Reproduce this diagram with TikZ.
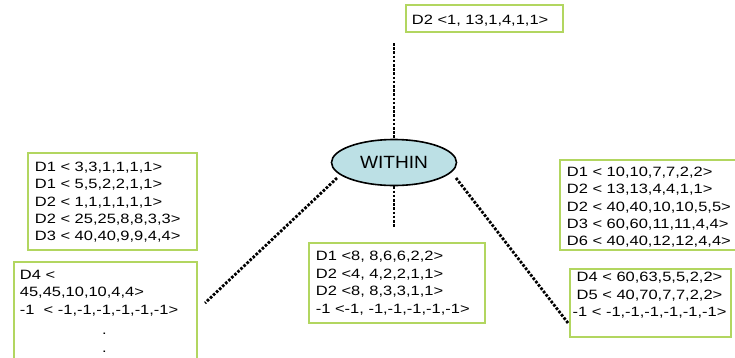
\documentclass[tikz,border=0pt]{standalone}
\usepackage{fontspec}
\usetikzlibrary{shapes.geometric}
\newfontfamily\boxfont{Liberation Sans}[FakeStretch=1.22]
\newfontfamily\ovalfont{Liberation Sans}[FakeStretch=1.08]
\definecolor{framegreen}{RGB}{178,214,96}
\definecolor{ovalblue}{RGB}{188,224,229}

\begin{document}
\begin{tikzpicture}[x=1pt,y=-1pt,
  listbox/.style={draw=framegreen, line width=1.5pt, inner sep=0pt, anchor=north west},
  listing/.style={anchor=north west, inner sep=0pt, align=left,
    font=\boxfont\fontsize{13.5}{17.4}\selectfont},
  link/.style={line width=2.8pt, dash pattern=on 2.6pt off 1.6pt},
  oval/.style={ellipse, draw, line width=1.6pt, fill=ovalblue,
    minimum width=125pt, minimum height=46pt, inner sep=0pt,
    font=\ovalfont\fontsize{17.7}{20}\selectfont}]

\useasboundingbox (0,0) rectangle (735,357);
\clip (0,0) rectangle (735,357);

% central oval
\node[oval] (within) at (394,162.5) {WITHIN};

% top list
\node[listbox, minimum width=157pt, minimum height=27pt] (topbox) at (405,4) {};
\node[listing] (toptext) at (411.7,14) {\rule{0pt}{10pt}D2 <1, 13,1,4,1,1>};

% left upper list
\node[listbox, minimum width=169pt, minimum height=97pt] (ltbox) at (27,152) {};
\node[listing] (lttext) at (34.7,161) {\rule{0pt}{10pt}D1 < 3,3,1,1,1,1>\\
  D1 < 5,5,2,2,1,1>\\D2 < 1,1,1,1,1,1>\\D2 < 25,25,8,8,3,3>\\D3 < 40,40,9,9,4,4>};

% left lower list (runs off the bottom)
\node[listbox, minimum width=183pt, minimum height=110pt] (lbbox) at (13,261) {};
\node[listing] (lbtext) at (19.7,269) {\rule{0pt}{10pt}D4 <\\
  45,45,10,10,4,4>\\-1\ \ < -1,-1,-1,-1,-1,-1>};
\node[listing, anchor=base] (lbdot1) at (104.5,334) {.};
\node[listing, anchor=base] (lbdot2) at (104.5,352) {.};

% middle list
\node[listbox, minimum width=176pt, minimum height=80pt] (midbox) at (308,242) {};
\node[listing] (midtext) at (315.7,250.7) {\rule{0pt}{10pt}D1 <8, 8,6,6,2,2>\\
  D2 <4, 4,2,2,1,1>\\D2 <8, 8,3,3,1,1>\\-1 <-1, -1,-1,-1,-1,-1>};

% right upper list (runs off the right edge)
\node[listbox, minimum width=190pt, minimum height=90pt] (rtbox) at (559,159) {};
\node[listing] (rttext) at (566.7,166) {\rule{0pt}{10pt}D1 < 10,10,7,7,2,2>\\
  D2 < 13,13,4,4,1,1>\\D2 < 40,40,10,10,5,5>\\D3 < 60,60,11,11,4,4>\\
  D6 < 40,40,12,12,4,4>};

% right lower list
\node[listbox, minimum width=161pt, minimum height=68pt] (rbbox) at (569,268) {};
\node[listing, anchor=north, align=center] (rbtext) at (649.5,271.5) {\rule{0pt}{10pt}D4 < 60,63,5,5,2,2>\\
  D5 < 40,70,7,7,2,2>\\-1 < -1,-1,-1,-1,-1,-1>};

% dotted links
\coordinate (topend) at (394,43);
\coordinate (midend) at (394,228);
\coordinate (lstart) at (337,178);
\coordinate (lend) at (205,303);
\coordinate (rstart) at (456,178);
\coordinate (rend) at (568,323);

\draw[link] (topend) -- (within.north);
\draw[link] (within.south) -- (midend);
\draw[link] (lstart) -- (lend);
\draw[link] (rstart) -- (rend);
\end{tikzpicture}
\end{document}
